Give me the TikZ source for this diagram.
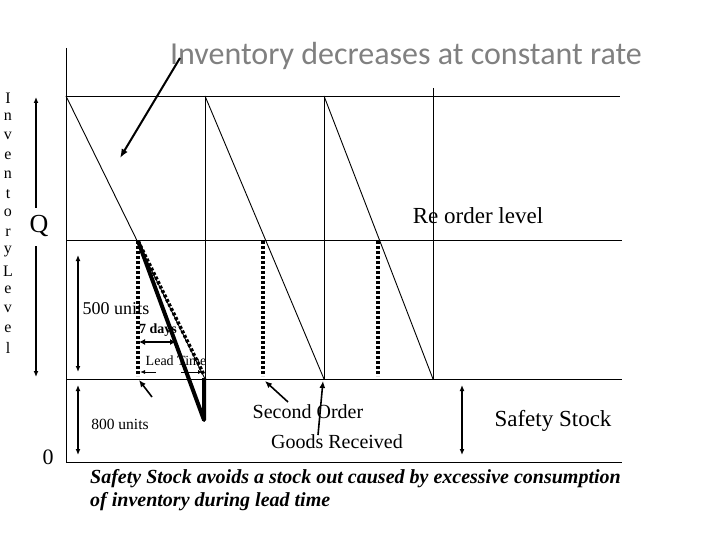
\documentclass[tikz,border=0pt]{standalone}
\usepackage{fontspec}
\setmainfont{Liberation Serif}
\newfontfamily\titlefont{Carlito}
\usetikzlibrary{arrows.meta}
\newcommand{\fs}[1]{\fontsize{#1}{#1}\selectfont}

\begin{document}
\begin{tikzpicture}[x=1pt,y=-1pt,
    thinline/.style={line width=0.9pt},
    thickdots/.style={line width=3.5pt,dash pattern=on 3pt off 2pt},
    dbl/.style={line width=1.8pt,{Latex[length=6pt,width=5pt]}-{Latex[length=6pt,width=5pt]}},
    pointer/.style={line width=1.6pt,-{Latex[length=7pt,width=6pt]}},
    lbl/.style={inner sep=0pt}]
    \useasboundingbox[fill=white] (0,0) rectangle (720,540);

    % frame of the chart
    \coordinate (top) at (66,48);
    \coordinate (origin) at (66,462);
    \coordinate (bend) at (622,462);
    \draw[thinline] (top) -- (origin) -- (bend);
    \coordinate (ssl) at (66,379);  \coordinate (ssr) at (622,379);
    \coordinate (rol) at (66,240);  \coordinate (ror) at (622,240);
    \coordinate (maxl) at (66,96);  \coordinate (maxr) at (620,96);
    \draw[thinline] (ssl) -- (ssr);
    \draw[thinline] (rol) -- (ror);
    \draw[thinline] (maxl) -- (maxr);

    % cycles
    \coordinate (r1) at (205,379);  \coordinate (t1) at (205,96);
    \coordinate (r2) at (324,379);  \coordinate (t2) at (324,96);
    \coordinate (r3) at (433,379);  \coordinate (t3) at (433,88);
    \draw[thinline] (maxl) -- (r1);
    \draw[thinline] (t1) -- (r1);
    \draw[thinline] (t1) -- (r2);
    \draw[thinline] (t2) -- (r2);
    \draw[thinline] (t2) -- (r3);
    \draw[thinline] (t3) -- (r3);

    % orders
    \coordinate (o1) at (138,241);  \coordinate (b1) at (138,376);
    \coordinate (o2) at (263,241);  \coordinate (b2) at (263,376);
    \coordinate (o3) at (378,241);  \coordinate (b3) at (378,376);
    \draw[thickdots] (o1) -- (b1);
    \draw[thickdots] (o2) -- (b2);
    \draw[thickdots] (o3) -- (b3);
    \coordinate (d1) at (204,375);
    \coordinate (low) at (204,420);
    \coordinate (lowtop) at (204,378);
    \draw[thickdots] (o1) -- (d1);
    \draw[line width=4pt,line join=round] (o1) -- (low) -- (lowtop);

    % lead time
    \coordinate (w1) at (139,342);  \coordinate (w2) at (176,342);
    \draw[line width=2.5pt,{Latex[length=6pt,width=6pt]}-{Latex[length=6pt,width=6pt]}] (w1) -- (w2);
    \node[lbl,font=\fs{14}\bfseries] (days) at (158,330) {7 days};
    \node[lbl,font=\fs{14}] (lead) at (176,361) {Lead Time};
    \coordinate (la) at (156,372);  \coordinate (lb) at (140,372);
    \coordinate (lc) at (181,372);  \coordinate (ld) at (203,372);
    \draw[thinline,-{Latex[length=5pt,width=4pt]}] (la) -- (lb);
    \draw[thinline,-{Latex[length=5pt,width=4pt]}] (lc) -- (ld);

    % left axis
    \node[lbl,font=\fs{26}] (Q) at (39,226) {Q};
    \coordinate (qa) at (36,97);  \coordinate (qb) at (36,208);
    \coordinate (qc) at (36,246); \coordinate (qd) at (36,377);
    \draw[line width=2pt,-{Latex[length=6pt,width=5pt]}] (qb) -- (qa);
    \draw[line width=2pt,-{Latex[length=6pt,width=5pt]}] (qc) -- (qd);
    \foreach \ch [count=\i from 0] in {I,n,v,e,n,t,o,r,y,L,e,v,e,l}
        \node[lbl,font=\fs{16}] (ax\i) at (8,98+19.2*\i) {\ch};
    \node[lbl,font=\fs{22}] (zero) at (48,457) {0};

    % levels
    \coordinate (u1) at (78,255);  \coordinate (u2) at (78,372);
    \draw[dbl] (u1) -- (u2);
    \node[lbl,font=\fs{18}] (five) at (116,309) {500 units};
    \coordinate (e1) at (78,385);  \coordinate (e2) at (78,455);
    \draw[dbl] (e1) -- (e2);
    \node[lbl,font=\fs{15.5}] (eight) at (120,424) {800 units};
    \coordinate (e3) at (152,397);  \coordinate (e4) at (139,380);
    \draw[pointer] (e3) -- (e4);
    \coordinate (s1) at (462,385);  \coordinate (s2) at (462,455);
    \draw[dbl] (s1) -- (s2);
    \node[lbl,font=\fs{23}] (safety) at (553,421) {Safety Stock};
    \node[lbl,font=\fs{23}] (reorder) at (478,216) {Re order level};

    % orders and receipts
    \node[lbl,font=\fs{20}] (second) at (308,412) {Second Order};
    \node[lbl,font=\fs{20}] (goods) at (337,442) {Goods Received};
    \coordinate (g1) at (288,402);  \coordinate (g2) at (265,381);
    \draw[pointer] (g1) -- (g2);
    \coordinate (g3) at (318,435);  \coordinate (g4) at (323,381);
    \draw[pointer] (g3) -- (g4);

    % title
    \node[lbl,font=\titlefont\fs{32},text=black!50] (title) at (406,56) {Inventory decreases at constant rate};
    \coordinate (c1) at (180,58);  \coordinate (c2) at (120,158);
    \draw[line width=2pt,-{Latex[length=9pt,width=7pt]}] (c1) -- (c2);

    % note
    \node[lbl,anchor=west,font=\fs{20}\bfseries\itshape] (note1) at (90,479) {Safety Stock avoids a stock out caused by excessive consumption};
    \node[lbl,anchor=west,font=\fs{20}\bfseries\itshape] (note2) at (90,502) {of inventory during lead time};
\end{tikzpicture}
\end{document}
